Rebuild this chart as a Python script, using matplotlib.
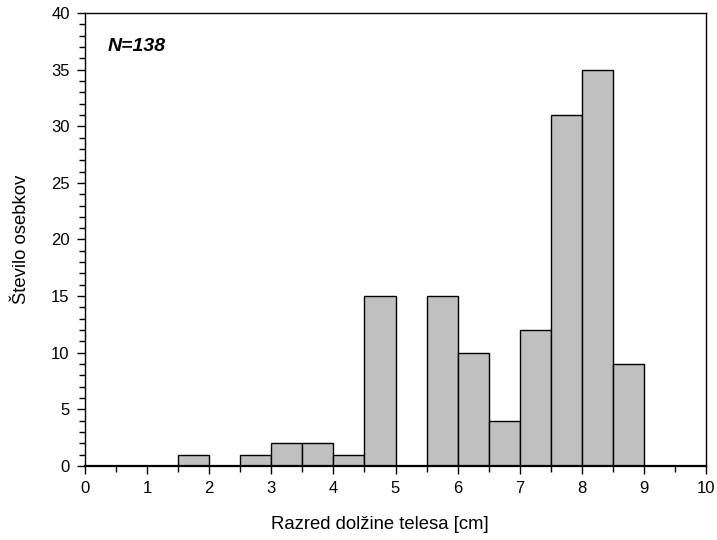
import numpy as np
import matplotlib.pyplot as plt
from matplotlib.ticker import MultipleLocator

plt.rcParams['font.family'] = ['Liberation Sans', 'DejaVu Sans']

# histogram bins (left edges) and counts, bin width 0.5 cm
bin_left = [1.5, 2.5, 3.0, 3.5, 4.0, 4.5, 5.5, 6.0, 6.5, 7.0, 7.5, 8.0, 8.5]
counts = [1, 1, 2, 2, 1, 15, 15, 10, 4, 12, 31, 35, 9]
width = 0.5


def main():
    fig = plt.figure(figsize=(7.17, 5.40), dpi=100)
    ax = fig.add_axes([85 / 717, 1 - 466 / 540, (706 - 85) / 717, (466 - 13) / 540])

    ax.bar(bin_left, counts, width=width, align='edge', color='#c0c0c0',
           edgecolor='black', linewidth=1)

    ax.set_xlim(0, 10)
    ax.set_ylim(0, 40)
    ax.xaxis.set_major_locator(MultipleLocator(1))
    ax.xaxis.set_minor_locator(MultipleLocator(0.5))
    ax.yaxis.set_major_locator(MultipleLocator(5))
    ax.yaxis.set_minor_locator(MultipleLocator(1))
    ax.tick_params(which='both', direction='out', width=1, labelsize=12)
    ax.tick_params(which='major', length=6, pad=5)
    ax.tick_params(which='minor', length=4)
    for s in ax.spines.values():
        s.set_linewidth(1)
    ax.spines['bottom'].set_linewidth(1.6)

    ax.set_xlabel("Razred dolžine telesa [cm]", fontsize=13.3, labelpad=14)
    ax.xaxis.label.set_x(0.475)
    ax.set_ylabel("Število osebkov", fontsize=13.3, labelpad=15)
    ax.text(0.037, 0.925, "N=138", transform=ax.transAxes, fontsize=14,
            fontweight='bold', fontstyle='italic', va='center')

    fig.savefig("out.png", dpi=100)


if __name__ == "__main__":
    main()
